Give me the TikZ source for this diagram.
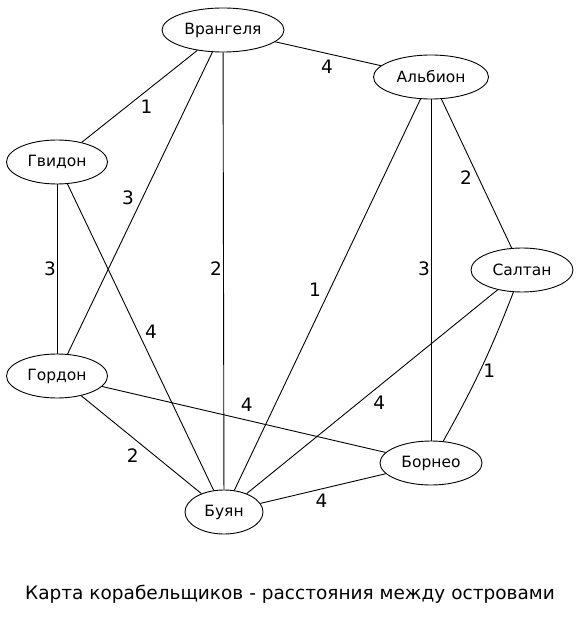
\documentclass[tikz,border=0pt]{standalone}
\usepackage{fontspec}
\setmainfont{DejaVu Sans}
\usepackage{tikz}
\usetikzlibrary{shapes.geometric}

\begin{document}
\begin{tikzpicture}[x=1pt,y=-1pt,
  island/.style={draw,ellipse,line width=0.9pt,inner sep=0pt,minimum height=44pt,font=\fontsize{15.5}{17}\selectfont},
  dist/.style={font=\fontsize{18.5}{20}\selectfont,inner sep=0pt},
  road/.style={line width=0.9pt}]
\useasboundingbox (0,0) rectangle (581,617);
% islands
\node[island,minimum width=122pt] (vrangel) at (223,30) {Врангеля};
\node[island,minimum width=115pt] (albion) at (431,77) {Альбион};
\node[island,minimum width=101pt] (gvidon) at (57,162) {Гвидон};
\node[island,minimum width=102pt] (saltan) at (522,270) {Салтан};
\node[island,minimum width=101pt] (gordon) at (57,376) {Гордон};
\node[island,minimum width=102pt] (borneo) at (431,463) {Борнео};
\node[island,minimum width=78pt] (buyan) at (224,512) {Буян};
% distances
\draw[road] (vrangel) -- node[dist,xshift=-1pt,yshift=-13.5pt] {4} (albion);
\draw[road] (vrangel) -- node[dist,xshift=7pt,yshift=-10pt] {1} (gvidon);
\draw[road] (vrangel) -- node[dist,xshift=-12pt,yshift=5pt] {3} (gordon);
\draw[road] (vrangel) -- node[dist,xshift=-7.5pt,yshift=2pt] {2} (buyan);
\draw[road] (albion) -- node[dist,xshift=-10.5pt,yshift=-4.5pt] {2} (saltan);
\draw[road] (albion) -- node[dist,xshift=-7pt,yshift=1pt] {3} (borneo);
\draw[road] (albion) -- node[dist,xshift=-12.5pt,yshift=4.5pt] {1} (buyan);
\draw[road] (gvidon) -- node[dist,xshift=-7pt] {3} (gordon);
\draw[road] (gvidon) -- node[dist,xshift=10.5pt,yshift=5pt] {4} (buyan);
\draw[road] (saltan) -- node[dist,xshift=7pt,yshift=-11pt] {4} (buyan);
\draw[road] (saltan) to[bend left=4] node[dist,xshift=8pt,yshift=-2.5pt] {1} (borneo);
\draw[road] (gordon) -- node[dist,xshift=3pt,yshift=14.5pt] {4} (borneo);
\draw[road] (gordon) -- node[dist,xshift=-8.5pt,yshift=-11pt] {2} (buyan);
\draw[road] (buyan) -- node[dist,xshift=-1.5pt,yshift=-12.5pt] {4} (borneo);
% title
\node[dist] (title) at (290,594) {Карта корабельщиков - расстояния между островами};
\end{tikzpicture}
\end{document}
